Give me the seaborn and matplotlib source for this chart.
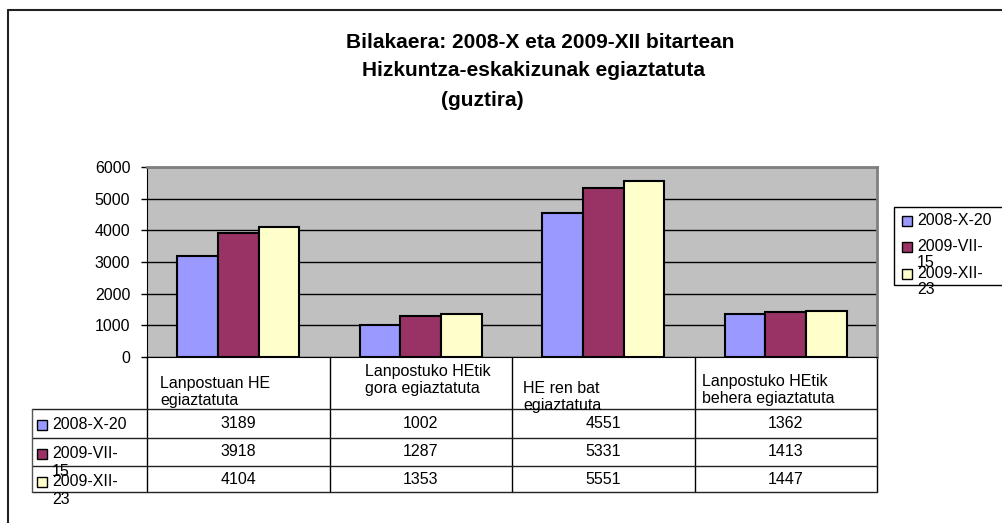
import pandas as pd
import matplotlib.pyplot as plt
import matplotlib.transforms as mtransforms
from matplotlib.patches import Rectangle
import seaborn as sns

sns.set_style("white")
plt.rcParams["font.family"] = ["Liberation Sans", "DejaVu Sans"]
plt.rcParams["text.color"] = "black"
plt.rcParams["ytick.labelcolor"] = "black"

# data
categories = [
    "Lanpostuan HE\negiaztatuta",
    "Lanpostuko HEtik\ngora egiaztatuta",
    "HE ren bat\negiaztatuta",
    "Lanpostuko HEtik\nbehera egiaztatuta",
]
series = ["2008-X-20", "2009-VII-\n15", "2009-XII-\n23"]
v_2008_x_20 = [3189, 1002, 4551, 1362]
v_2009_vii_15 = [3918, 1287, 5331, 1413]
v_2009_xii_23 = [4104, 1353, 5551, 1447]
values = [v_2008_x_20, v_2009_vii_15, v_2009_xii_23]
colors = ["#9999FF", "#993366", "#FFFFCC"]
title_lines = [
    "Bilakaera: 2008-X eta 2009-XII bitartean",
    "Hizkuntza-eskakizunak egiaztatuta",
    "(guztira)",
]

rows = []
for s, vals in zip(series, values):
    for c, v in zip(categories, vals):
        rows.append({"category": c, "series": s, "value": v})
df = pd.DataFrame(rows)

W, H = 1002, 523
fig = plt.figure(figsize=(W / 100, H / 100), dpi=100)
fs = 11.5


def fx(x):
    return x / W


def fy(y):
    return 1 - y / H


ax = fig.add_axes([fx(147), fy(357), fx(877) - fx(147), fy(167) - fy(357)])
sns.barplot(data=df, x="category", y="value", hue="series", order=categories,
            hue_order=series, palette=dict(zip(series, colors)),
            edgecolor="black", linewidth=1.5, width=0.67, legend=False,
            saturation=1, ax=ax)

ax.set_facecolor("#C0C0C0")
ax.set_xlim(-0.5, 3.5)
ax.set_ylim(0, 6000)
ax.set_yticks(range(0, 7000, 1000))
ax.yaxis.grid(True, color="black", linewidth=1)
ax.set_axisbelow(True)
ax.set_xticks([])
ax.set_xlabel("")
ax.set_ylabel("")
ax.tick_params(axis="y", left=True, length=4, width=1, color="black",
               direction="out", pad=8, labelsize=fs, labelcolor="black")
ax.spines["left"].set_color("black")
ax.spines["bottom"].set_color("black")
ax.spines["top"].set_color("#808080")
ax.spines["right"].set_color("#808080")
ax.spines["top"].set_linewidth(2)
ax.spines["right"].set_linewidth(2)

# outer frame
fig.add_artist(plt.Line2D([fx(8), 1], [fy(10), fy(10)], color="#222222", lw=1.5))
fig.add_artist(plt.Line2D([fx(8), fx(8)], [fy(10), 0], color="#222222", lw=1.5))

# title
fig.text(fx(540), fy(42), title_lines[0], ha="center", va="center",
         fontsize=15, fontweight="bold")
fig.text(fx(534), fy(70), title_lines[1], ha="center", va="center",
         fontsize=15, fontweight="bold")
fig.text(fx(482), fy(100), title_lines[2], ha="center", va="center",
         fontsize=15, fontweight="bold")

# data table under the axis
bt = mtransforms.blended_transform_factory(ax.transData, fig.transFigure)
row_y = [409, 438, 466, 492]
for x in [-0.5, 0.5, 1.5, 2.5, 3.5]:
    ax.plot([x, x], [fy(357), fy(492)], color="black", lw=1,
            transform=bt, clip_on=False)
for y in row_y:
    fig.add_artist(plt.Line2D([fx(32), fx(877)], [fy(y), fy(y)],
                              color="#222222", lw=1))
fig.add_artist(plt.Line2D([fx(32), fx(32)], [fy(409), fy(492)],
                          color="#555555", lw=1))

head_pos = [(160, 376), (365, 364), (523, 381), (702, 374)]
for (px, py), c in zip(head_pos, categories):
    fig.text(fx(px), fy(py), c, ha="left", va="top", fontsize=fs,
             linespacing=1.15)

val_y = [423, 452, 479]
for vals, yy in zip(values, val_y):
    for i, v in enumerate(vals):
        ax.text(i, fy(yy), str(v), ha="center", va="center", fontsize=fs,
                transform=bt)

lab_y = [425, 454, 482]
for s, col, yy in zip(series, colors, lab_y):
    fig.add_artist(Rectangle((fx(37), fy(yy + 5)), fx(10), 10 / H,
                             facecolor=col, edgecolor="black", lw=1))
    fig.text(fx(52), fy(yy - 8), s, ha="left", va="top", fontsize=fs,
             linespacing=1.25)

# legend
fig.add_artist(Rectangle((fx(894), fy(285)), fx(120), 78 / H,
                         facecolor="white", edgecolor="black", lw=1))
leg_y = [221, 247, 274]
for s, col, yy in zip(series, colors, leg_y):
    fig.add_artist(Rectangle((fx(902), fy(yy + 5)), fx(10), 10 / H,
                             facecolor=col, edgecolor="black", lw=1))
    fig.text(fx(917), fy(yy - 8), s, ha="left", va="top", fontsize=fs,
             linespacing=1.1)

fig.savefig("out.png", dpi=100)
